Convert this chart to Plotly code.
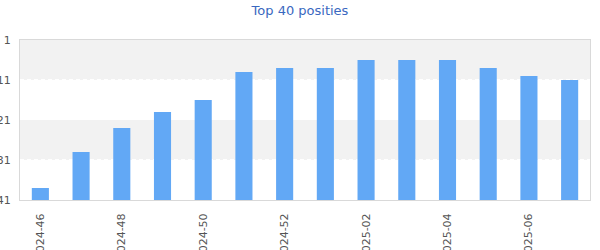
import plotly.graph_objects as go

weeks = ["2024-46", "2024-47", "2024-48", "2024-49", "2024-50", "2024-51", "2024-52",
         "2025-01", "2025-02", "2025-03", "2025-04", "2025-05", "2025-06", "2025-07"]
positions = [38, 29, 23, 19, 16, 9, 8, 8, 6, 6, 6, 8, 10, 11]
y_ticks = [1, 11, 21, 31, 41]
bottom_pos = 41
top_pos = 1

fig = go.Figure()
fig.add_trace(go.Bar(
    x=weeks,
    y=[p - bottom_pos for p in positions],
    base=[bottom_pos] * len(positions),
    marker=dict(color="#62a8f5", line=dict(width=0)),
    customdata=positions,
    hovertemplate="%{x}: %{customdata}<extra></extra>",
))

# alternating bands
for lo, hi in [(1, 11), (21, 31)]:
    fig.add_shape(type="rect", xref="paper", yref="y", x0=0, x1=1, y0=lo, y1=hi,
                  fillcolor="#f2f2f2", line=dict(width=0), layer="below")
# dashed white grid lines, just above each tick boundary
for t in y_ticks[1:-1]:
    fig.add_shape(type="line", xref="paper", yref="y", x0=0, x1=1, y0=t - 0.125, y1=t - 0.125,
                  line=dict(color="white", width=1, dash="4px,3px"), layer="below")

fig.update_layout(
    width=600, height=250,
    margin=dict(l=20, r=10, t=40, b=50, autoexpand=False),
    paper_bgcolor="white", plot_bgcolor="white",
    showlegend=False,
    bargap=0.58,
    font=dict(family="DejaVu Sans", size=11, color="#555555"),
    title=dict(text="Top 40 posities", x=0.5, xanchor="center", y=1, yanchor="top",
               pad=dict(t=6), font=dict(family="DejaVu Sans", size=13, color="#3a68c0")),
)
fig.update_xaxes(
    type="category", categoryorder="array", categoryarray=weeks,
    tickvals=weeks[::2], ticktext=weeks[::2], tickangle=-90,
    showline=True, linecolor="#d9d9d9", linewidth=1, mirror=True,
    showgrid=False, ticks="", ticklabelstandoff=8, automargin=False,
    tickfont=dict(family="DejaVu Sans", size=11, color="#555555"),
)
fig.update_yaxes(
    range=[bottom_pos, top_pos], tickvals=y_ticks,
    showline=True, linecolor="#d9d9d9", linewidth=1, mirror=True,
    showgrid=False, zeroline=False, ticks="", ticklabelstandoff=6, automargin=False,
    tickfont=dict(family="DejaVu Sans", size=11, color="#555555"),
)

fig.write_html("out.html")
